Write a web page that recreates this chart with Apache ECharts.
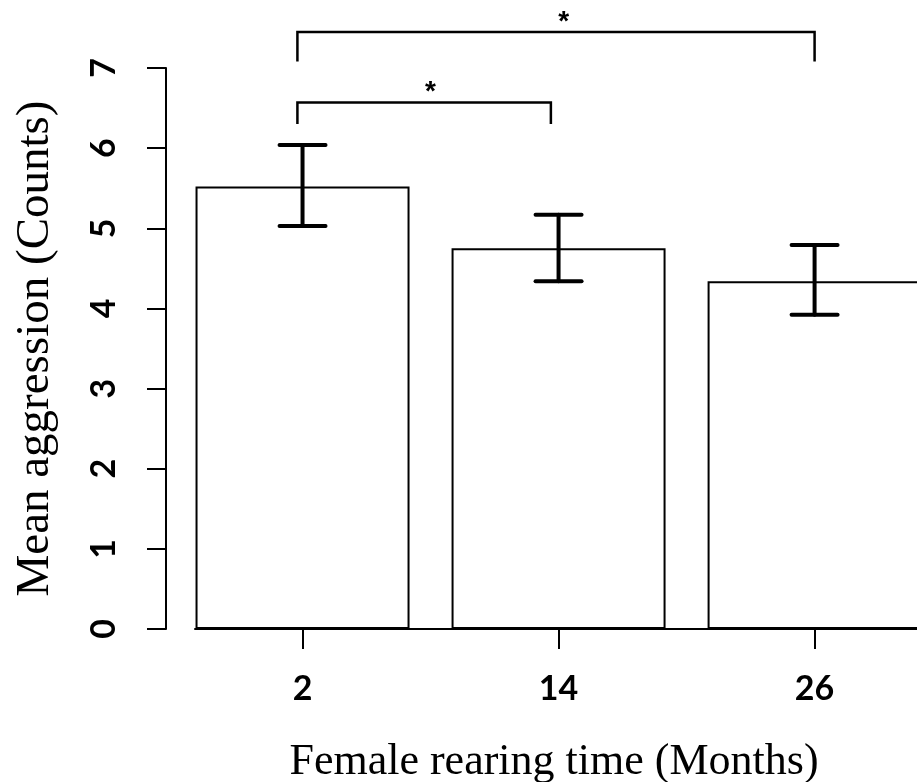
<!DOCTYPE html>
<html><head><meta charset="utf-8">
<script src="https://cdn.jsdelivr.net/npm/echarts@6/dist/echarts.min.js"></script>
<style>html,body{margin:0;padding:0;background:#fff}#c{width:917px;height:782px}</style>
</head><body><div id="c"></div>
<script>
// ---- data ----
const categories = ['2', '14', '26'];          // female rearing time (months)
const positions = [1, 2, 3];                   // category slots on the x axis
const means = [5.52, 4.75, 4.34];              // mean aggression (counts)
const errLow = [5.03, 4.34, 3.92];
const errHigh = [6.04, 5.17, 4.79];
// significance brackets: [xStart, xEnd, yTop, yDropEnd]
const bracketFrom = [0.98, 0.98];
const bracketTo = [1.97, 3.0];
const bracketTop = [6.57, 7.45];
const bracketDrop = [6.30, 7.08];
const starX = [1.5, 2.02];
const starText = ['*', '*'];

const xTitle = 'Female rearing time (Months)';
const yTitle = 'Mean aggression (Counts)';

const chart = echarts.init(document.getElementById('c'), null, {renderer: 'canvas'});

const barData = positions.map((p, i) => [p, means[i]]);
const errData = positions.map((p, i) => [p, errLow[i], errHigh[i]]);
const brData = bracketFrom.map((f, i) => [f, bracketTo[i], bracketTop[i], bracketDrop[i], starX[i]]);

chart.setOption({
  animation: false,
  backgroundColor: '#fff',
  grid: {left: 195, top: 68, right: 0, height: 561, containLabel: false, outerBoundsMode: 'none'},
  xAxis: {
    type: 'value', min: 0.58, max: 3.40,
    axisLine: {show: true, onZero: false, lineStyle: {color: '#000', width: 2}},
    axisTick: {show: true, customValues: positions, length: 20, lineStyle: {color: '#000', width: 2}},
    axisLabel: {
      show: true, customValues: positions,
      formatter: v => categories[positions.indexOf(v)],
      fontFamily: 'Lato', fontWeight: 'bold', fontSize: 34, color: '#000', margin: 43
    },
    splitLine: {show: false},
    name: xTitle, nameLocation: 'middle', nameGap: 111,
    nameTextStyle: {fontFamily: 'Liberation Serif', fontSize: 44, color: '#000', padding: [0, 4, 0, 0]}
  },
  yAxis: {
    type: 'value', min: 0, max: 7, interval: 1, offset: 29,
    axisLine: {show: true, onZero: false, lineStyle: {color: '#000', width: 2}},
    axisTick: {show: true, length: 19, lineStyle: {color: '#000', width: 2}},
    axisLabel: {rotate: 90, fontFamily: 'Lato', fontWeight: 'bold', fontSize: 34, color: '#000', margin: 45},
    splitLine: {show: false},
    name: yTitle, nameLocation: 'middle', nameRotate: 90, nameGap: 107,
    nameTextStyle: {fontFamily: 'Liberation Serif', fontSize: 47, color: '#000', padding: [0, 0, 0, 0]}
  },
  series: [
    {
      type: 'bar', data: barData, barWidth: 214, z: 2,
      itemStyle: {color: '#fff', borderColor: '#000', borderWidth: 2}
    },
    {
      type: 'custom', data: errData, z: 3, clip: false,
      renderItem: function (params, api) {
        const x = api.value(0);
        const lo = api.coord([x, api.value(1)]);
        const hi = api.coord([x, api.value(2)]);
        const hw = 23;
        const st = {stroke: '#000', lineWidth: 4, lineCap: 'round'};
        return {type: 'group', children: [
          {type: 'line', shape: {x1: lo[0], y1: lo[1], x2: hi[0], y2: hi[1]}, style: st},
          {type: 'line', shape: {x1: hi[0] - hw, y1: hi[1], x2: hi[0] + hw, y2: hi[1]}, style: st},
          {type: 'line', shape: {x1: lo[0] - hw, y1: lo[1], x2: lo[0] + hw, y2: lo[1]}, style: st}
        ]};
      }
    },
    {
      type: 'custom', data: brData, z: 3, clip: false,
      renderItem: function (params, api) {
        const a = api.coord([api.value(0), api.value(2)]);
        const b = api.coord([api.value(1), api.value(2)]);
        const ad = api.coord([api.value(0), api.value(3)]);
        const bd = api.coord([api.value(1), api.value(3)]);
        const s = api.coord([api.value(4), api.value(2)]);
        return {type: 'group', children: [
          {type: 'polyline', shape: {points: [ad, a, b, bd]},
           style: {stroke: '#000', lineWidth: 2.5, fill: null}},
          {type: 'text', x: s[0], y: s[1] - 10,
           style: {text: starText[params.dataIndex], fontFamily: 'Liberation Sans', fontWeight: 'bold',
                   fontSize: 28, fill: '#000', align: 'center', verticalAlign: 'middle'}}
        ]};
      }
    }
  ]
});
</script>
</body></html>
